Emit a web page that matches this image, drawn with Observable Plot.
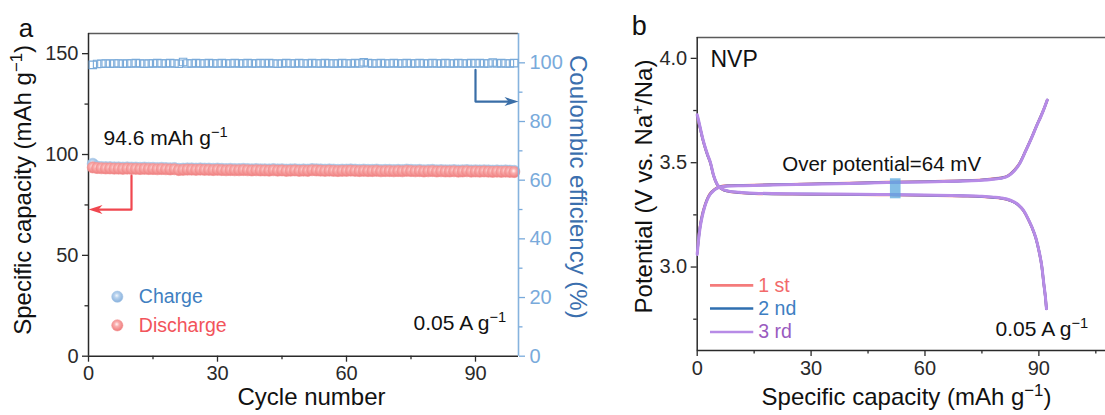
<!DOCTYPE html>
<html><head><meta charset="utf-8">
<script src="https://cdn.jsdelivr.net/npm/d3@7"></script>
<script src="https://cdn.jsdelivr.net/npm/@observablehq/plot@0.6"></script>
<style>
html,body{margin:0;padding:0;background:#fff;overflow:hidden;}
#root{position:relative;width:1105px;height:415px;overflow:hidden;background:#fff;font-family:"Liberation Sans",Arial,sans-serif;}
#root svg.pp{position:absolute;top:0;max-width:none;}
</style></head><body>
<svg width="0" height="0" style="position:absolute">
<defs>
<radialGradient id="gRed" cx="0.45" cy="0.4" r="0.62">
<stop offset="0" stop-color="#fff4f4"/><stop offset="0.35" stop-color="#f9adad"/><stop offset="1" stop-color="#ee7676"/>
</radialGradient>
<radialGradient id="gBlue" cx="0.45" cy="0.4" r="0.62">
<stop offset="0" stop-color="#f2f7fd"/><stop offset="0.35" stop-color="#b6d1ed"/><stop offset="1" stop-color="#84aedb"/>
</radialGradient>
</defs></svg>
<div id="root"></div>
<script>
// ---------- Panel a data ----------
const cycles = d3.range(1, 100);
const chargeCapacity = [
95.4,94.0,93.8,93.7,93.7,93.6,93.6,93.5,93.6,93.5,
93.5,93.4,93.5,93.4,93.4,93.3,93.4,93.3,93.2,93.3,
92.9,93.0,93.1,93.1,93.0,93.1,93.0,93.0,92.9,93.0,
92.9,92.8,92.9,92.8,92.8,92.9,92.8,92.7,92.8,92.7,
92.7,92.6,92.8,92.6,92.7,92.5,92.6,92.7,92.5,92.6,
92.5,92.8,92.7,92.6,92.5,92.6,92.5,92.4,92.5,92.5,
92.6,92.5,92.4,92.5,92.4,92.4,92.5,92.3,92.4,92.4,
92.3,92.4,92.3,92.5,92.4,92.3,92.4,92.2,92.3,92.4,
92.2,92.3,92.2,92.2,92.3,92.1,92.2,92.3,92.1,92.2,
92.1,92.2,92.1,92.0,92.1,92.0,92.1,92.0,91.9];
const dischargeCapacity = [
93.6,93.3,93.2,93.1,93.1,93.0,93.0,92.9,93.0,92.9,
92.9,92.8,92.9,92.8,92.8,92.7,92.8,92.7,92.6,92.7,
92.3,92.4,92.5,92.5,92.4,92.5,92.4,92.4,92.3,92.4,
92.3,92.2,92.3,92.2,92.2,92.3,92.2,92.1,92.2,92.1,
92.1,92.0,92.2,92.0,92.1,91.9,92.0,92.1,91.9,92.0,
91.9,92.2,92.1,92.0,91.9,92.0,91.9,91.8,91.9,91.9,
92.0,91.9,91.8,91.9,91.8,91.8,91.9,91.7,91.8,91.8,
91.7,91.8,91.7,91.9,91.8,91.7,91.8,91.6,91.7,91.8,
91.6,91.7,91.6,91.6,91.7,91.5,91.6,91.7,91.5,91.6,
91.5,91.6,91.5,91.4,91.5,91.4,91.5,91.4,91.3];
const coulombicEfficiency = [
99.3,99.6,99.7,99.8,99.7,99.8,99.8,99.7,99.8,99.8,
99.9,99.8,99.7,99.8,99.8,99.9,99.8,99.8,99.9,99.8,
99.7,100.3,99.8,99.8,99.9,99.8,99.8,99.9,99.8,99.8,
99.9,99.8,99.8,99.9,99.8,99.8,99.9,99.8,99.8,99.9,
99.8,99.9,99.8,99.7,99.8,99.9,99.8,99.8,99.9,99.8,
99.8,99.9,99.8,99.8,99.9,99.8,99.8,99.8,99.9,99.8,
99.8,99.9,99.8,100.2,99.9,99.8,99.8,99.9,99.8,99.8,
99.9,99.8,99.8,99.9,99.8,99.8,99.9,99.8,99.8,99.9,
99.8,99.8,99.9,99.8,99.8,99.9,99.8,99.8,99.9,99.8,
99.9,99.8,99.8,100.1,99.8,99.9,99.8,99.8,99.9];
const xTicksA = [0, 30, 60, 90];
const xMinorA = [15, 45, 75];
const yTicksA = [0, 50, 100, 150];
const yMinorA = [25, 75, 125];
const ceTicks = [0, 20, 40, 60, 80, 100];
const ceMinor = [10, 30, 50, 70, 90];
const redArrow = [[10, 89.5], [10, 72.7], [2.2, 72.7]];
const redArrowTip = [[0, 72.7]];
const blueArrow = [[90, 97.6], [90, 86.8], [97.8, 86.8]];
const blueArrowTip = [[100, 86.8]];

// ---------- Panel b data ----------
const chargeCap = [0,0.3,0.7,1.3,2.0,2.6,3.3,4.0,5.0,6.0,8,12,20,30,40,50,60,70,75,78,80,82,83.5,85,86.5,88,89.5,90.5,91.5,92.2];
const charge1V = [3.07,3.13,3.19,3.25,3.295,3.325,3.35,3.364,3.378,3.386,3.39,3.392,3.395,3.399,3.402,3.407,3.41,3.414,3.418,3.424,3.428,3.44,3.464,3.5,3.557,3.617,3.682,3.722,3.766,3.80];
const charge2V = [3.065,3.125,3.185,3.245,3.292,3.322,3.347,3.362,3.376,3.384,3.389,3.391,3.394,3.398,3.401,3.406,3.409,3.413,3.417,3.422,3.426,3.438,3.462,3.498,3.556,3.616,3.681,3.721,3.765,3.80];
const charge3V = [3.06,3.12,3.18,3.24,3.29,3.32,3.345,3.36,3.375,3.383,3.388,3.39,3.393,3.397,3.40,3.405,3.408,3.412,3.416,3.421,3.425,3.437,3.46,3.497,3.555,3.615,3.68,3.72,3.765,3.80];
const dischargeCap = [0,0.4,0.9,1.4,2.0,2.7,3.5,4.3,5.3,6.5,8,11,15,25,35,48,60,70,75,78,80,82.5,84.5,86,87.2,88.2,89.2,90,90.8,91.3,91.7,92.0];
const discharge1V = [3.72,3.69,3.655,3.615,3.576,3.537,3.497,3.438,3.393,3.373,3.363,3.356,3.352,3.349,3.348,3.346,3.343,3.34,3.337,3.333,3.329,3.318,3.298,3.268,3.228,3.188,3.138,3.078,2.998,2.918,2.858,2.80];
const discharge2V = [3.725,3.695,3.657,3.617,3.578,3.538,3.498,3.439,3.394,3.374,3.364,3.357,3.353,3.35,3.349,3.347,3.344,3.341,3.338,3.334,3.33,3.319,3.299,3.269,3.229,3.189,3.139,3.079,2.999,2.919,2.859,2.80];
const discharge3V = [3.73,3.70,3.66,3.62,3.58,3.54,3.50,3.44,3.395,3.375,3.365,3.358,3.354,3.351,3.35,3.348,3.345,3.342,3.339,3.335,3.331,3.32,3.30,3.27,3.23,3.19,3.14,3.08,3.0,2.92,2.86,2.80];
const cycleLabels = ["1 st", "2 nd", "3 rd"];
const overPotentialBox = [{x1: 50.9, x2: 53.7, y1: 3.327, y2: 3.423}];
const xTicksB = [0, 30, 60, 90];
const xMinorB = [15, 45, 75, 105];
const yTicksB = [3.0, 3.5, 4.0];
const yMinorB = [2.75, 3.25, 3.75];

// ---------- helpers ----------
const FONT = '"Liberation Sans", Arial, sans-serif';
const headRight = {draw(c){c.moveTo(0,0);c.lineTo(-14,-4.5);c.lineTo(-10,0);c.lineTo(-14,4.5);c.closePath();}};
const headLeft = {draw(c){c.moveTo(0,0);c.lineTo(14,-4.5);c.lineTo(10,0);c.lineTo(14,4.5);c.closePath();}};
function supify(svg){
  svg.querySelectorAll("text").forEach(t => {
    const s = t.textContent;
    if (!s.includes("^{")) return;
    while (t.firstChild) t.removeChild(t.firstChild);
    s.split(/(\^\{[^}]*\})/).forEach(p => {
      if (!p) return;
      const ts = document.createElementNS("http://www.w3.org/2000/svg", "tspan");
      if (p.startsWith("^{")) {
        ts.textContent = p.slice(2, -1);
        ts.setAttribute("baseline-shift", "super");
        ts.setAttribute("font-size", "70%");
      } else ts.textContent = p;
      t.appendChild(ts);
    });
  });
}
function place(svg, left){
  svg.classList.add("pp");
  svg.style.left = left + "px";
  svg.style.background = "transparent";
  supify(svg);
  document.getElementById("root").appendChild(svg);
}
const T = {textAnchor: "middle", lineAnchor: "middle", text: d => d};

const capData = cycles.map((c, i) => ({cycle: c, charge: chargeCapacity[i], discharge: dischargeCapacity[i], ce: coulombicEfficiency[i]}));

const dimsA = {width: 620, height: 415, marginLeft: 88, marginRight: 102, marginTop: 33, marginBottom: 59.3};
const dark = "#2a2a2a";

// ---------- Panel a (left axis) ----------
const a1 = Plot.plot({
  ...dimsA,
  style: {fontFamily: FONT, fontSize: "20px", background: "transparent", overflow: "visible"},
  x: {domain: [0, 100]},
  y: {domain: [0, 160]},
  marks: [
    Plot.ruleY([160], {stroke: "#5a5a5a", strokeWidth: 1.5}),
    Plot.ruleY([0], {stroke: dark, strokeWidth: 1.5}),
    Plot.ruleX([0], {stroke: dark, strokeWidth: 1.5}),
    Plot.axisX({ticks: xTicksA, tickSize: 6, tickPadding: 4, tickFormat: d => d, label: null, color: dark, strokeWidth: 1.3}),
    Plot.axisX({ticks: xMinorA, tickSize: 3.5, tickFormat: () => "", label: null, color: dark, strokeWidth: 1.3}),
    Plot.axisY({ticks: yTicksA, tickSize: 6, tickPadding: 4, tickFormat: d => d, label: null, color: dark, strokeWidth: 1.3}),
    Plot.axisY({ticks: yMinorA, tickSize: 3.5, tickFormat: () => "", label: null, color: dark, strokeWidth: 1.3}),
    Plot.dot(capData, {x: "cycle", y: "charge", r: 5.6, fill: "url(#gBlue)", stroke: "#a3c4e6", strokeWidth: 0.6}),
    Plot.dot(capData, {x: "cycle", y: "discharge", r: 5.6, fill: "url(#gRed)", stroke: "#f29292", strokeWidth: 0.6}),
    Plot.line(redArrow, {x: d => d[0], y: d => d[1], stroke: "#f0474f", strokeWidth: 2.2}),
    Plot.dot(redArrowTip, {x: d => d[0], y: d => d[1], symbol: headLeft, fill: "#f0474f", stroke: "none"}),
    Plot.text(["94.6 mAh g^{−1}"], {...T, x: 3.5, y: 108, textAnchor: "start", fontSize: 21, fill: "#111"}),
    Plot.text(["0.05 A g^{−1}"], {...T, x: 75.6, y: 16.3, textAnchor: "start", fontSize: 21, fill: "#111"}),
    Plot.dot(["Charge"], {x: 6.7, y: 29.5, r: 5.6, fill: "url(#gBlue)", stroke: "#a3c4e6", strokeWidth: 0.6}),
    Plot.dot(["Discharge"], {x: 6.7, y: 15.3, r: 5.6, fill: "url(#gRed)", stroke: "#f29292", strokeWidth: 0.6}),
    Plot.text(["Charge"], {...T, x: 11.7, y: 29.5, textAnchor: "start", fontSize: 19.5, fill: "#3f7fc1"}),
    Plot.text(["Discharge"], {...T, x: 11.7, y: 15.3, textAnchor: "start", fontSize: 19.5, fill: "#f2545b"}),
    Plot.text(["Specific capacity (mAh g^{−1})"], {...T, frameAnchor: "left", dx: -65, dy: -5, rotate: -90, fontSize: 24, fill: "#111"}),
    Plot.text(["Cycle number"], {...T, frameAnchor: "bottom", dx: 8, dy: 41, fontSize: 24, fill: "#111"}),
    Plot.text(["a"], {...T, frameAnchor: "top-left", dx: -62.5, dy: -4.5, fontSize: 26, fill: "#111"})
  ]
});
place(a1, 0);

// ---------- Panel a (right axis) ----------
const a2 = Plot.plot({
  ...dimsA,
  style: {fontFamily: FONT, fontSize: "20px", background: "transparent", overflow: "visible"},
  x: {domain: [0, 100], axis: null},
  y: {domain: [0, 110]},
  marks: [
    Plot.ruleX([100], {stroke: "#86b3de", strokeWidth: 1.6}),
    Plot.axisY({anchor: "right", ticks: ceTicks, tickSize: 6, tickPadding: 5, tickFormat: d => d, label: null, color: "#79aadb", strokeWidth: 1.3}),
    Plot.axisY({anchor: "right", ticks: ceMinor, tickSize: 3.5, tickFormat: () => "", label: null, color: "#79aadb", strokeWidth: 1.3}),
    Plot.dot(capData, {x: "cycle", y: "ce", symbol: "square", r: 4.2, fill: "none", stroke: "#7aaad9", strokeWidth: 1.1}),
    Plot.line(blueArrow, {x: d => d[0], y: d => d[1], stroke: "#3a6ea7", strokeWidth: 2.2}),
    Plot.dot(blueArrowTip, {x: d => d[0], y: d => d[1], symbol: headRight, fill: "#3a6ea7", stroke: "none"}),
    Plot.text(["Coulombic efficiency (%)"], {...T, frameAnchor: "right", dx: 59, dy: -8, rotate: 90, fontSize: 24, fill: "#3b6fae"})
  ]
});
place(a2, 0);

// ---------- Panel b ----------
const mk = (cap, v) => cap.map((c, i) => ({cap: c, v: v[i]}));
const curveColors = ["#f47b7b", "#2f6fb0", "#b78be6"];
const labelColors = ["#f26a6a", "#3d7ec2", "#9a5bbf"];
const chargeSets = [charge1V, charge2V, charge3V];
const dischargeSets = [discharge1V, discharge2V, discharge3V];
const curveMarks = [];
cycleLabels.forEach((lab, k) => {
  const w = k === 2 ? 3 : 2.6;
  curveMarks.push(Plot.line(mk(chargeCap, chargeSets[k]), {x: "cap", y: "v", stroke: curveColors[k], strokeWidth: w, curve: "monotone-x"}));
  curveMarks.push(Plot.line(mk(dischargeCap, dischargeSets[k]), {x: "cap", y: "v", stroke: curveColors[k], strokeWidth: w, curve: "monotone-x"}));
});
const legY = [2.912, 2.801, 2.689];
const legendMarks = [];
cycleLabels.forEach((lab, k) => {
  legendMarks.push(Plot.ruleY([legY[k]], {x1: 3.5, x2: 14.9, stroke: curveColors[k], strokeWidth: 2.6}));
  legendMarks.push(Plot.text([lab], {...T, x: 16.1, y: legY[k], textAnchor: "start", fontSize: 19.5, fill: labelColors[k]}));
});

const b = Plot.plot({
  width: 520, height: 415, marginLeft: 86.7, marginRight: 15.7, marginTop: 37, marginBottom: 65,
  style: {fontFamily: FONT, fontSize: "20px", background: "transparent", overflow: "visible"},
  x: {domain: [0, 110]},
  y: {domain: [2.6, 4.1]},
  marks: [
    Plot.ruleY([4.1], {stroke: "#5a5a5a", strokeWidth: 1.5}),
    Plot.ruleY([2.6], {stroke: dark, strokeWidth: 1.5}),
    Plot.ruleX([0], {stroke: dark, strokeWidth: 1.5}),
    Plot.axisX({ticks: xTicksB, tickSize: 6, tickPadding: 4, tickFormat: d => d, label: null, color: dark, strokeWidth: 1.3}),
    Plot.axisX({ticks: xMinorB, tickSize: 3.5, tickFormat: () => "", label: null, color: dark, strokeWidth: 1.3}),
    Plot.axisY({ticks: yTicksB, tickSize: 6, tickPadding: 4, tickFormat: d3.format(".1f"), label: null, color: dark, strokeWidth: 1.3}),
    Plot.axisY({ticks: yMinorB, tickSize: 3.5, tickFormat: () => "", label: null, color: dark, strokeWidth: 1.3}),
    ...curveMarks,
    Plot.rect(overPotentialBox, {x1: "x1", x2: "x2", y1: "y1", y2: "y2", fill: "#5aa7dd", fillOpacity: 0.75}),
    Plot.text(["NVP"], {...T, x: 3.5, y: 3.994, textAnchor: "start", fontSize: 23, fill: "#111"}),
    Plot.text(["Over potential=64 mV"], {...T, x: 22.4, y: 3.494, textAnchor: "start", fontSize: 20.5, fill: "#111"}),
    Plot.text(["0.05 A g^{−1}"], {...T, x: 78.6, y: 2.70, textAnchor: "start", fontSize: 21, fill: "#111"}),
    ...legendMarks,
    Plot.text(["Potential (V vs. Na^{+}/Na)"], {...T, frameAnchor: "left", dx: -52.7, dy: -7.5, rotate: -90, fontSize: 24, fill: "#111"}),
    Plot.text(["Specific capacity (mAh g^{−1})"], {...T, frameAnchor: "bottom", dx: 0.5, dy: 46.5, fontSize: 24, fill: "#111"}),
    Plot.text(["b"], {...T, frameAnchor: "top-left", dx: -58, dy: -11, fontSize: 27, fill: "#111"})
  ]
});
place(b, 610);
</script>
</body></html>
